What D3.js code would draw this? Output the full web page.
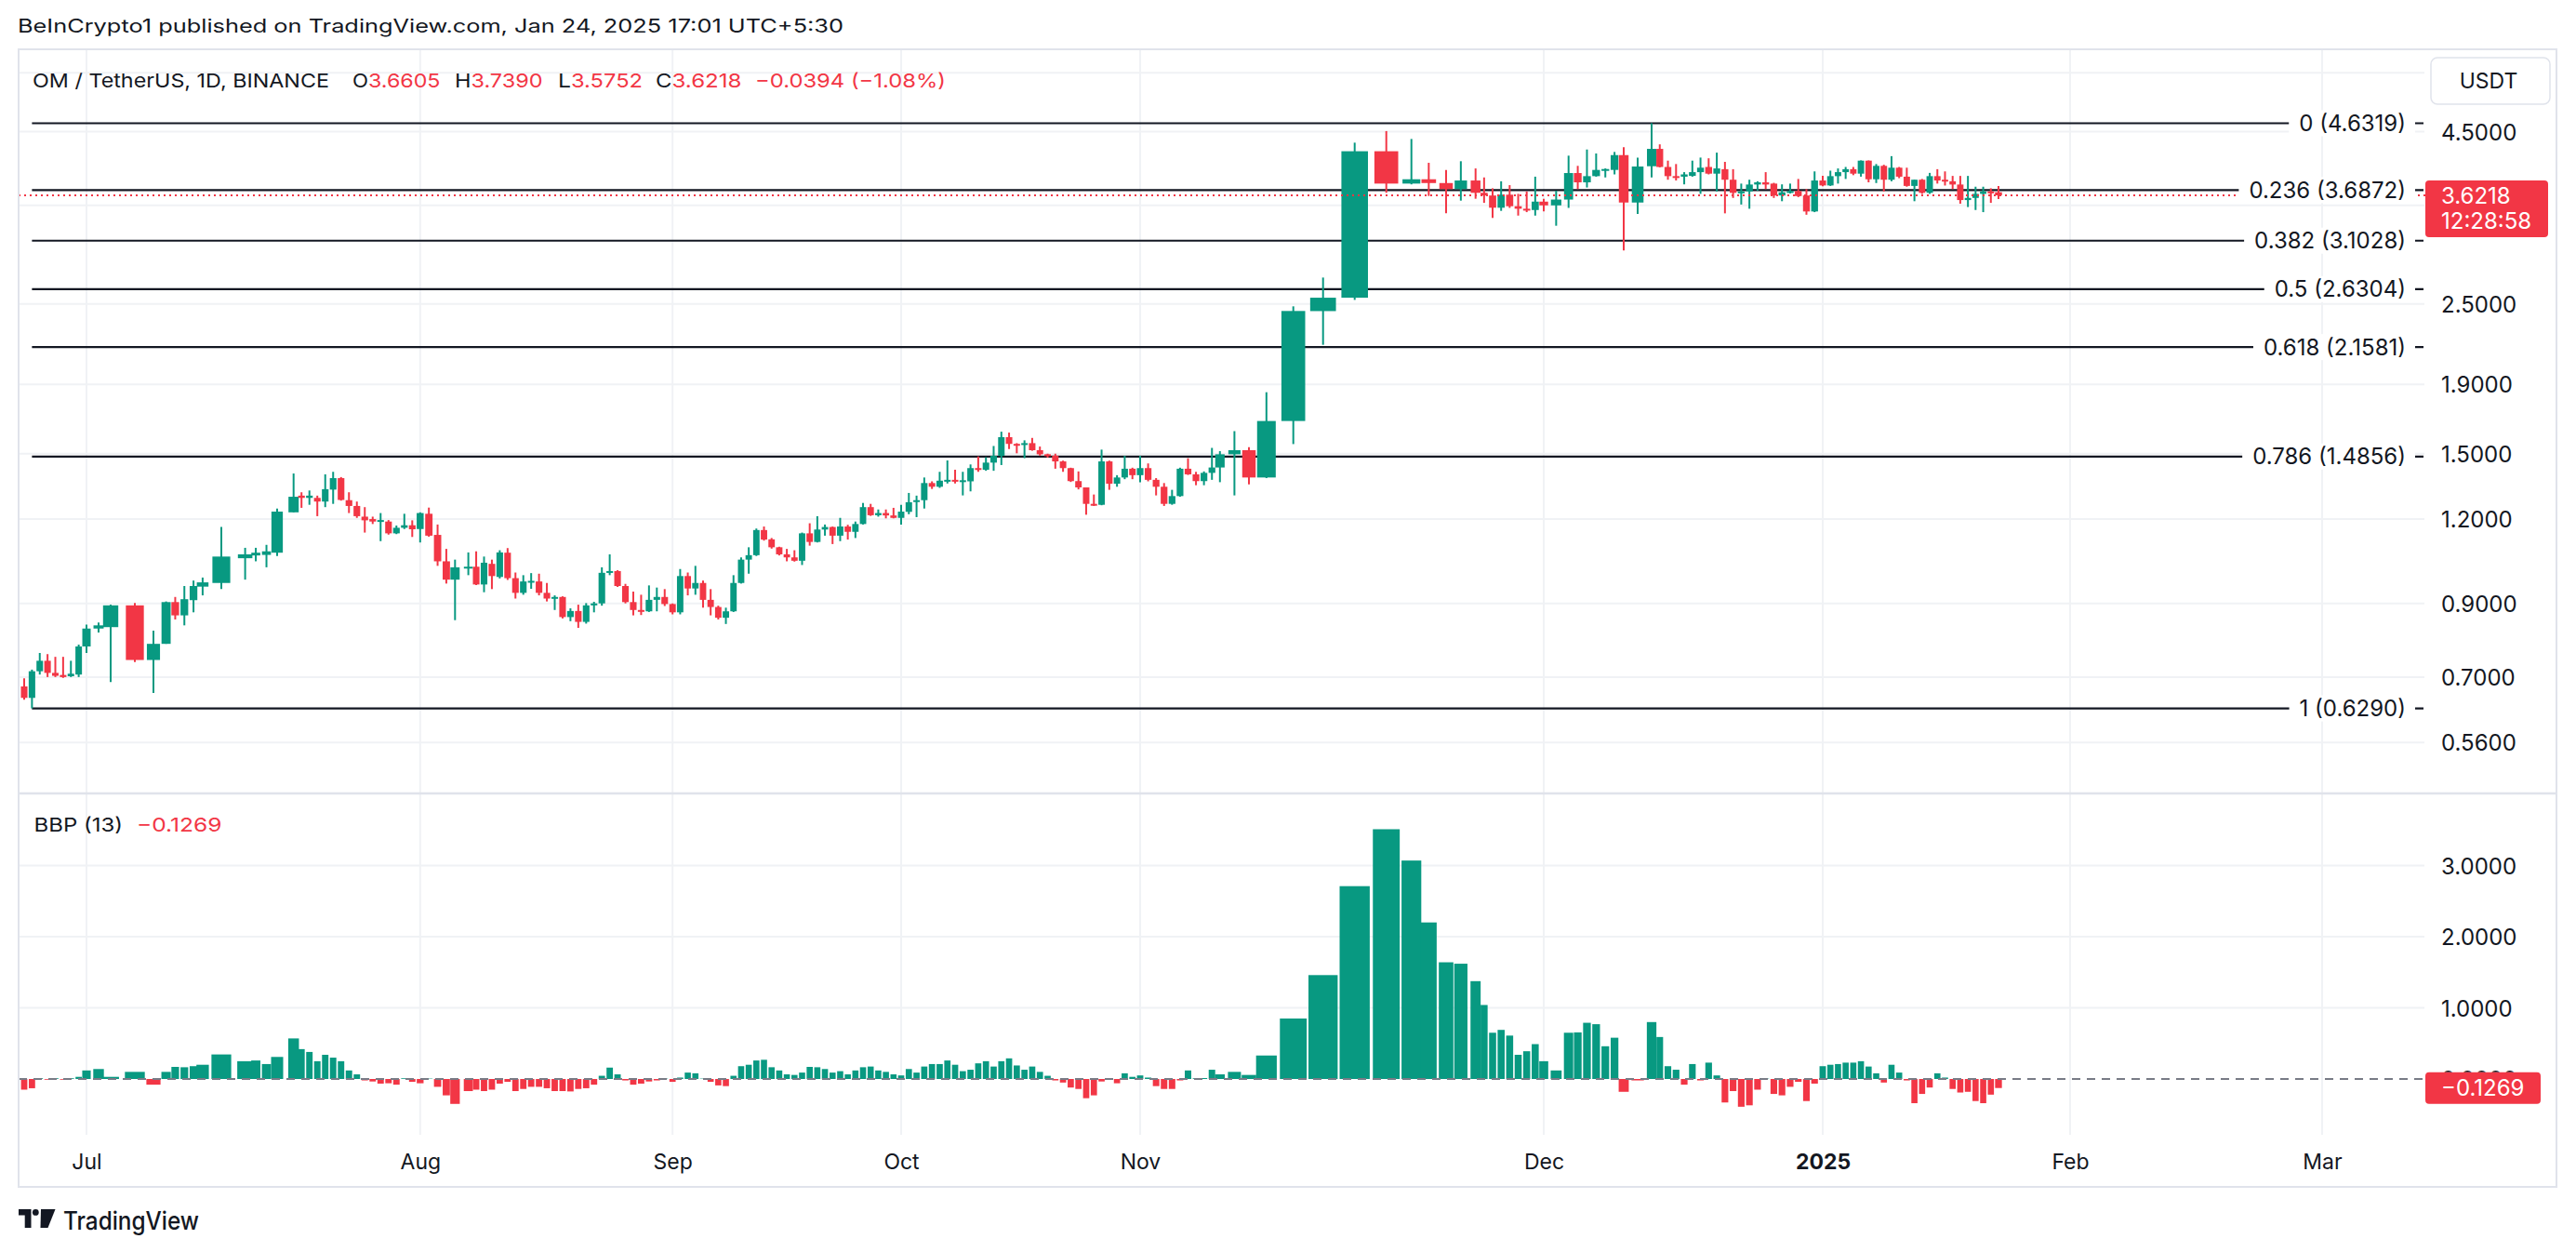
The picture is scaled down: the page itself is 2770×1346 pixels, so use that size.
<!DOCTYPE html>
<html>
<head>
<meta charset="utf-8">
<script src="https://cdn.jsdelivr.net/npm/d3@7"></script>
<style>
html,body{margin:0;padding:0;background:#ffffff;}
svg{display:block;font-family:Inter,"Noto Sans","DejaVu Sans",sans-serif;}
</style>
</head>
<body>
<svg id="chart" width="2770" height="1346"></svg>
<script>
// ------------------------------------------------------------------ DATA
const startDate = "2024-06-23"; // first daily candle; one value per day below
const open = [
  0.678,0.652,0.714,0.740,0.710,0.705,0.702,0.706,
  0.777,0.826,0.830,0.894,0.742,0.784,0.904,0.864,0.910,0.953,0.965,1.050,1.060,1.062,1.070,1.228,1.300,1.290,1.290,1.274,1.327,1.380,1.280,1.255,1.210,1.200,1.190,1.190,1.143,1.165,1.175,
  1.160,1.222,1.137,1.039,0.976,1.018,1.020,0.960,1.030,0.985,1.070,0.981,0.933,0.970,0.970,0.933,0.915,0.920,0.859,0.877,0.845,0.894,0.900,0.999,1.005,0.955,0.904,0.880,0.876,0.911,0.920,
  0.898,0.873,0.988,0.947,0.965,0.911,0.889,0.857,0.876,0.965,1.045,1.061,1.156,1.120,1.090,1.064,1.053,1.041,1.143,1.110,1.158,1.168,1.134,1.170,1.149,1.180,1.250,1.216,1.225,1.215,
  1.205,1.230,1.275,1.280,1.357,1.340,1.368,1.372,1.366,1.365,1.428,1.420,1.455,1.489,1.587,1.551,1.548,1.555,1.518,1.497,1.490,1.461,1.428,1.366,1.337,1.264,1.260,1.461,1.354,1.383,1.425,
  1.394,1.428,1.372,1.340,1.264,1.298,1.425,1.398,1.366,1.405,1.431,1.497,1.518,1.383,1.677,2.440,2.554,4.210,3.770,3.826,3.777,3.700,3.810,3.653,3.620,3.472,3.630,3.490,3.460,3.445,
  3.545,3.500,3.570,3.908,3.786,3.867,3.950,3.950,4.155,3.534,4.000,4.244,3.990,3.867,3.860,3.870,3.920,3.990,3.900,3.960,3.820,3.653,3.670,3.758,3.786,3.770,3.620,3.660,3.675,3.620,3.428,
  3.810,3.746,3.867,3.920,3.960,3.900,4.077,3.826,4.005,3.820,3.980,3.860,3.740,3.820,3.653,3.867,3.820,3.800,3.758,3.564,3.590,3.640,3.670,3.6605
];
const high = [
  0.697,0.718,0.760,0.757,0.750,0.750,0.740,0.782,
  0.837,0.843,0.896,0.901,0.820,0.906,0.920,0.955,0.973,0.983,1.168,1.088,1.088,1.099,1.244,1.402,1.315,1.323,1.300,1.398,1.410,1.385,1.315,1.274,1.250,1.210,1.225,1.196,1.174,1.222,1.195,
  1.228,1.248,1.178,1.084,1.045,1.071,1.075,1.056,1.045,1.079,1.087,1.000,0.991,0.998,0.996,0.965,0.925,0.922,0.885,0.896,0.901,0.905,1.018,1.064,1.008,0.962,0.937,0.927,0.957,0.950,0.945,
  0.900,1.012,1.000,1.023,0.973,0.945,0.893,0.887,0.991,1.053,1.090,1.162,1.170,1.125,1.092,1.084,1.079,1.146,1.183,1.212,1.178,1.170,1.205,1.177,1.190,1.268,1.264,1.240,1.240,1.247,
  1.260,1.312,1.300,1.383,1.365,1.410,1.466,1.420,1.410,1.446,1.486,1.482,1.540,1.617,1.612,1.555,1.570,1.583,1.537,1.500,1.500,1.465,1.430,1.412,1.337,1.305,1.521,1.465,1.394,1.489,1.430,
  1.489,1.451,1.380,1.357,1.326,1.430,1.477,1.410,1.412,1.530,1.513,1.620,1.534,1.850,2.480,2.736,4.335,4.510,4.390,4.047,3.950,4.069,3.970,3.850,3.710,3.800,3.750,3.640,3.670,3.860,
  3.580,3.680,4.147,4.005,4.235,4.178,3.970,4.200,4.267,4.120,4.6319,4.310,4.077,4.030,3.920,4.077,4.120,4.110,4.190,4.060,3.960,3.770,3.820,3.800,3.920,3.780,3.760,3.770,3.830,3.700,3.930,
  3.870,3.940,3.970,3.990,3.990,4.080,4.080,4.030,4.020,4.140,3.990,3.980,3.820,3.830,3.910,3.960,3.930,3.870,3.870,3.870,3.730,3.730,3.710,3.7390
];
const low = [
  0.648,0.629,0.706,0.700,0.700,0.698,0.700,0.700,
  0.760,0.815,0.688,0.737,0.663,0.784,0.852,0.835,0.873,0.925,0.945,0.976,1.039,1.018,1.058,1.228,1.247,1.260,1.212,1.250,1.264,1.278,1.225,1.205,1.146,1.180,1.113,1.138,1.140,1.160,1.129,
  1.108,1.130,1.023,0.963,0.850,0.991,0.958,0.935,0.945,0.980,0.975,0.915,0.927,0.946,0.925,0.906,0.880,0.855,0.847,0.828,0.840,0.873,0.893,0.991,0.952,0.900,0.864,0.865,0.874,0.876,0.892,
  0.867,0.867,0.925,0.927,0.887,0.864,0.852,0.839,0.874,0.963,0.996,1.058,1.115,1.085,1.060,1.039,1.038,1.026,1.096,1.108,1.134,1.102,1.113,1.119,1.125,1.178,1.213,1.210,1.203,1.203,
  1.178,1.220,1.208,1.244,1.330,1.335,1.355,1.355,1.301,1.319,1.410,1.415,1.415,1.443,1.524,1.502,1.477,1.515,1.490,1.480,1.425,1.410,1.362,1.328,1.218,1.255,1.258,1.326,1.340,1.375,1.375,
  1.361,1.365,1.301,1.255,1.260,1.295,1.395,1.347,1.347,1.372,1.361,1.301,1.351,1.380,1.550,2.175,2.535,3.653,3.760,3.614,3.406,3.557,3.580,3.530,3.353,3.435,3.470,3.380,3.420,3.380,
  3.430,3.265,3.470,3.700,3.720,3.860,3.850,3.890,3.000,3.399,3.850,3.985,3.820,3.810,3.760,3.860,3.640,3.890,3.670,3.406,3.590,3.510,3.460,3.680,3.700,3.590,3.550,3.645,3.600,3.390,3.420,
  3.735,3.740,3.770,3.830,3.880,3.860,3.786,3.777,3.670,3.800,3.840,3.730,3.550,3.640,3.640,3.770,3.745,3.700,3.520,3.480,3.445,3.420,3.530,3.5752
];
const close = [
  0.652,0.714,0.740,0.710,0.703,0.700,0.708,0.777,
  0.826,0.835,0.894,0.742,0.784,0.904,0.864,0.913,0.955,0.967,1.056,1.064,1.070,1.075,1.231,1.295,1.290,1.300,1.274,1.329,1.380,1.281,1.255,1.212,1.195,1.190,1.196,1.143,1.165,1.175,1.159,
  1.225,1.134,1.039,0.976,1.018,1.020,0.960,1.034,0.988,1.071,0.981,0.933,0.970,0.972,0.933,0.915,0.920,0.859,0.877,0.845,0.894,0.900,0.999,1.005,0.955,0.904,0.880,0.876,0.911,0.920,0.898,
  0.873,0.988,0.947,0.965,0.911,0.889,0.857,0.876,0.965,1.045,1.061,1.156,1.119,1.090,1.064,1.053,1.041,1.143,1.110,1.158,1.168,1.134,1.170,1.149,1.180,1.250,1.216,1.225,1.215,1.205,
  1.231,1.271,1.280,1.357,1.340,1.368,1.372,1.366,1.370,1.428,1.420,1.455,1.489,1.587,1.551,1.548,1.555,1.518,1.497,1.490,1.461,1.428,1.366,1.337,1.264,1.260,1.461,1.354,1.383,1.425,1.394,
  1.428,1.372,1.340,1.264,1.298,1.425,1.398,1.366,1.405,1.431,1.497,1.518,1.383,1.677,2.441,2.554,4.210,3.770,3.826,3.777,3.700,3.810,3.653,3.620,3.472,3.630,3.490,3.460,3.445,3.545,
  3.500,3.570,3.908,3.786,3.867,3.950,3.962,4.155,3.534,3.996,4.244,3.990,3.867,3.860,3.890,3.920,3.980,3.900,3.970,3.820,3.653,3.670,3.758,3.786,3.758,3.620,3.660,3.675,3.613,3.428,3.810,
  3.746,3.867,3.920,3.960,3.900,4.077,3.826,4.005,3.820,3.980,3.860,3.740,3.820,3.653,3.867,3.810,3.800,3.758,3.564,3.590,3.640,3.670,3.6612,3.6218
];
const bbp = [
  -0.15,-0.13,0.01,-0.01,0.01,-0.01,0.01,0.03,
  0.12,0.14,0.03,0.10,-0.08,0.10,0.17,0.165,0.18,0.20,0.345,0.25,0.26,0.21,0.31,0.57,0.42,0.38,0.25,0.34,0.30,0.25,0.12,0.065,-0.02,-0.035,-0.065,-0.06,-0.08,0.01,-0.04,
  -0.06,0.005,-0.11,-0.23,-0.35,-0.17,-0.15,-0.17,-0.15,-0.065,-0.04,-0.17,-0.14,-0.11,-0.11,-0.13,-0.17,-0.17,-0.175,-0.14,-0.13,-0.08,0.045,0.16,0.065,-0.02,-0.08,-0.065,-0.035,-0.02,0.005,
  -0.04,0.02,0.09,0.08,0.005,-0.04,-0.09,-0.10,0.045,0.18,0.20,0.26,0.27,0.165,0.12,0.065,0.057,0.09,0.17,0.165,0.14,0.09,0.11,0.065,0.12,0.165,0.175,0.12,0.10,0.065,
  0.05,0.14,0.09,0.175,0.21,0.21,0.26,0.20,0.11,0.13,0.22,0.25,0.175,0.25,0.29,0.19,0.13,0.175,0.10,0.045,-0.02,-0.05,-0.12,-0.14,-0.27,-0.23,-0.035,0.005,-0.06,0.08,0.03,
  0.05,0.02,-0.10,-0.14,-0.14,-0.02,0.12,0.01,0.013,0.13,0.065,0.10,0.057,0.33,0.85,1.46,2.71,3.51,3.07,2.20,1.64,1.62,1.375,1.04,0.65,0.69,0.61,0.34,0.39,0.49,
  0.25,0.12,0.65,0.655,0.79,0.77,0.46,0.58,-0.18,-0.02,0.80,0.59,0.18,0.13,-0.08,0.21,-0.02,0.23,0.05,-0.33,-0.17,-0.39,-0.37,-0.15,0.005,-0.21,-0.23,-0.11,-0.04,-0.31,-0.065,
  0.18,0.20,0.21,0.23,0.23,0.25,0.175,0.08,-0.05,0.20,0.09,-0.02,-0.34,-0.21,-0.12,0.08,0.02,-0.14,-0.19,-0.18,-0.31,-0.34,-0.22,-0.1269
];
const priceGridTicks = [0.56, 0.7, 0.9, 1.2, 1.5, 1.9, 2.5, 3.5, 4.5, 5.5];
const priceLabelTicks = [0.56, 0.7, 0.9, 1.2, 1.5, 1.9, 2.5, 4.5]; // 3.5 and 5.5 are hidden under the tag / button
const bbpTicks = [0, 1, 2, 3];
const monthTicks = ["2024-07-01","2024-08-01","2024-09-01","2024-10-01","2024-11-01","2024-12-01","2025-01-01","2025-02-01","2025-03-01"];
const fibLevels = [0, 0.236, 0.382, 0.5, 0.618, 0.786, 1];
const fibHigh = 4.6319, fibLow = 0.6290, fibStart = "2024-06-24";
const headerText = "BeInCrypto1 published on TradingView.com, Jan 24, 2025 17:01 UTC+5:30";
const symbolText = "OM / TetherUS, 1D, BINANCE";
const bbpTitle = "BBP (13)";
const countdown = "12:28:58";
const currency = "USDT";

// ------------------------------------------------------------------ LAYOUT
const C_UP = "#089981", C_DN = "#F23645", C_TXT = "#131722", C_GRID = "#F0F2F5", C_BORDER = "#E0E3EB";
const FRAME = {l: 20, t: 53, r: 2749, b: 1276};
const PLOT_R = 2607;
const PANE_SEP = 853, BBP_BOTTOM = 1220;
const AXIS_X = 2625;
// the time axis of the picture is not uniform: piecewise anchors (date -> px)
const timeWarp = [
  ["2024-06-23",26],["2024-07-01",93],["2024-07-03",119],["2024-07-04",145],["2024-07-05",165],
  ["2024-07-06",178.6],["2024-07-10",217.9],["2024-07-11",238],["2024-07-12",263.6],["2024-07-15",298],
  ["2024-07-16",315.7],["2024-08-01",451.8],["2024-08-05",489.3],["2024-08-06",503.6],["2024-09-01",723.2],
  ["2024-10-01",969],["2024-11-01",1226],["2024-11-11",1311.8],["2024-11-13",1343],["2024-11-14",1361.8],
  ["2024-11-15",1390.7],["2024-11-16",1422.7],["2024-11-17",1456.7],["2024-11-18",1490.7],["2024-11-19",1517.7],
  ["2024-11-21",1555],["2024-11-23",1586.7],["2024-12-01",1660],["2024-12-03",1686.7],["2024-12-09",1746],
  ["2024-12-11",1776],["2025-01-01",1960],["2025-01-24",2149],["2025-02-01",2226],["2025-03-01",2497]
];

const parseDay = d3.utcParse("%Y-%m-%d");
const t0 = parseDay(startDate);
const rows = open.map((o, i) => ({
  date: d3.utcDay.offset(t0, i), o, h: high[i], l: low[i], c: close[i], b: bbp[i]
}));

const x = d3.scaleUtc().domain(timeWarp.map(a => parseDay(a[0]))).range(timeWarp.map(a => a[1]));
const y = d3.scaleLog().domain([0.56, 4.5]).range([798.2, 141.6]);
const yb = d3.scaleLinear().domain([0, 3]).range([1160, 930.5]);
const slot = d => (x(d3.utcDay.offset(d, 1)) - x(d3.utcDay.offset(d, -1))) / 2;
const f4 = d3.format(".4f");

const svg = d3.select("#chart");
svg.append("rect").attr("width", 2770).attr("height", 1346).attr("fill", "#fff");

const defs = svg.append("defs");
defs.append("clipPath").attr("id", "pricePane").append("rect")
  .attr("x", FRAME.l).attr("y", FRAME.t).attr("width", PLOT_R - FRAME.l).attr("height", PANE_SEP - FRAME.t);
defs.append("clipPath").attr("id", "bbpPane").append("rect")
  .attr("x", FRAME.l).attr("y", PANE_SEP).attr("width", PLOT_R - FRAME.l).attr("height", BBP_BOTTOM - PANE_SEP);

// ---- grid
const grid = svg.append("g");
const months = monthTicks.map(parseDay);
grid.selectAll("line.v").data(months).join("line")
  .attr("x1", d => x(d)).attr("x2", d => x(d)).attr("y1", FRAME.t).attr("y2", BBP_BOTTOM)
  .attr("stroke", C_GRID).attr("stroke-width", 2);
grid.selectAll("line.hp").data(priceGridTicks).join("line")
  .attr("x1", FRAME.l).attr("x2", PLOT_R).attr("y1", d => y(d)).attr("y2", d => y(d))
  .attr("stroke", C_GRID).attr("stroke-width", 2);
grid.selectAll("line.hb").data(bbpTicks.filter(v => v !== 0)).join("line")
  .attr("x1", FRAME.l).attr("x2", PLOT_R).attr("y1", d => yb(d)).attr("y2", d => yb(d))
  .attr("stroke", C_GRID).attr("stroke-width", 2);

// ---- fib retracement lines
const fibs = fibLevels.map(l => ({l, p: fibHigh - l * (fibHigh - fibLow)}));
svg.append("g").selectAll("line").data(fibs).join("line")
  .attr("x1", x(parseDay(fibStart))).attr("x2", 2606)
  .attr("y1", d => y(d.p)).attr("y2", d => y(d.p))
  .attr("stroke", "#131722").attr("stroke-width", 2.2);

// ---- candles
const cg = svg.append("g").attr("clip-path", "url(#pricePane)");
const candle = cg.selectAll("g").data(rows).join("g");
candle.append("line")
  .attr("x1", d => x(d.date)).attr("x2", d => x(d.date))
  .attr("y1", d => y(d.h)).attr("y2", d => y(d.l))
  .attr("stroke", d => d.c >= d.o ? C_UP : C_DN).attr("stroke-width", 2);
candle.append("rect")
  .attr("x", d => x(d.date) - slot(d.date) * 0.42)
  .attr("width", d => Math.max(1, slot(d.date) * 0.84))
  .attr("y", d => y(Math.max(d.o, d.c)))
  .attr("height", d => Math.max(2, y(Math.min(d.o, d.c)) - y(Math.max(d.o, d.c))))
  .attr("fill", d => d.c >= d.o ? C_UP : C_DN);

// ---- last price line
const last = rows[rows.length - 1], prev = rows[rows.length - 2];
svg.append("line").attr("x1", FRAME.l).attr("x2", 2608)
  .attr("y1", y(last.c)).attr("y2", y(last.c))
  .attr("stroke", C_DN).attr("stroke-width", 2).attr("stroke-dasharray", "2,4");

// ---- BBP histogram
const bg = svg.append("g").attr("clip-path", "url(#bbpPane)");
bg.selectAll("rect").data(rows).join("rect")
  .attr("x", d => x(d.date) - (slot(d.date) - 1.6) / 2)
  .attr("width", d => Math.max(1, slot(d.date) - 1.6))
  .attr("y", d => Math.min(yb(0), yb(d.b)))
  .attr("height", d => Math.abs(yb(d.b) - yb(0)))
  .attr("fill", d => d.b >= 0 ? C_UP : C_DN);
svg.append("line").attr("x1", FRAME.l).attr("x2", 2608).attr("y1", yb(0)).attr("y2", yb(0))
  .attr("stroke", "#787B86").attr("stroke-width", 2).attr("stroke-dasharray", "9,7");

// ---- frame
svg.append("rect").attr("x", FRAME.l).attr("y", FRAME.t)
  .attr("width", FRAME.r - FRAME.l).attr("height", FRAME.b - FRAME.t)
  .attr("fill", "none").attr("stroke", C_BORDER).attr("stroke-width", 2);
svg.append("line").attr("x1", FRAME.l).attr("x2", FRAME.r).attr("y1", PANE_SEP).attr("y2", PANE_SEP)
  .attr("stroke", C_BORDER).attr("stroke-width", 2.5);

// ---- axes (d3 axes, restyled)
function styleAxis(g) {
  g.select(".domain").remove();
  g.selectAll(".tick line").remove();
  g.selectAll("text").attr("fill", C_TXT).attr("font-family", "Inter, 'Noto Sans', sans-serif");
}
svg.append("g").attr("transform", `translate(${AXIS_X},0)`)
  .call(d3.axisRight(y).tickValues(priceLabelTicks).tickFormat(f4).tickSize(0).tickPadding(0))
  .call(styleAxis)
  .call(g => g.selectAll("text").attr("font-size", 24).attr("dy", "0.36em"));

// BBP scale: the zero label sits behind the value tag, only its top peeks out
defs.append("clipPath").attr("id", "zeroPeek").append("rect")
  .attr("x", AXIS_X - 5).attr("y", 1140).attr("width", 140).attr("height", yb(bbp[bbp.length - 1]) - 17 - 1140);
svg.append("g").attr("transform", `translate(${AXIS_X},0)`)
  .call(d3.axisRight(yb).tickValues(bbpTicks.filter(v => v !== 0)).tickFormat(f4).tickSize(0).tickPadding(0))
  .call(styleAxis)
  .call(g => g.selectAll("text").attr("font-size", 24).attr("dy", "0.36em"));
svg.append("g").attr("clip-path", "url(#zeroPeek)").append("text")
  .attr("x", AXIS_X).attr("y", yb(0)).attr("dy", "0.36em").attr("font-size", 24).attr("fill", C_TXT)
  .text(f4(0));

svg.append("g").attr("transform", `translate(0,1241)`)
  .call(d3.axisBottom(x).tickValues(months)
    .tickFormat(d => d.getUTCMonth() === 0 ? d3.utcFormat("%Y")(d) : d3.utcFormat("%b")(d))
    .tickSize(0).tickPadding(0))
  .call(styleAxis)
  .call(g => g.selectAll("text").attr("font-size", 23).attr("dy", "0.71em")
    .attr("font-weight", d => d.getUTCMonth() === 0 ? 700 : 400));

// ---- fib labels
const fibLab = svg.append("g");
fibs.forEach(f => {
  const yy = y(f.p);
  const t = fibLab.append("text").attr("x", 2587).attr("y", yy).attr("dy", "0.36em")
    .attr("text-anchor", "end").attr("font-size", 24).attr("fill", C_TXT)
    .text(`${f.l} (${f4(f.p)})`);
  const w = t.node().getComputedTextLength();
  fibLab.insert("rect", "text").attr("x", 2587 - w - 11).attr("y", yy - 14)
    .attr("width", w + 21).attr("height", 28).attr("fill", "#fff");
});

// ---- price tag
const tag = svg.append("g");
tag.append("rect").attr("x", 2608).attr("y", y(last.c) - 16).attr("width", 132).attr("height", 61)
  .attr("rx", 4).attr("fill", C_DN);
tag.append("text").attr("x", AXIS_X).attr("y", y(last.c)).attr("dy", "0.36em")
  .attr("font-size", 24).attr("fill", "#fff").text(f4(last.c));
tag.append("text").attr("x", AXIS_X).attr("y", y(last.c) + 27).attr("dy", "0.36em")
  .attr("font-size", 24).attr("fill", "#fff").text(countdown);

// ---- bbp tag
svg.append("rect").attr("x", 2608).attr("y", yb(last.b) - 17).attr("width", 124).attr("height", 34)
  .attr("rx", 4).attr("fill", C_DN);
svg.append("text").attr("x", AXIS_X).attr("y", yb(last.b)).attr("dy", "0.36em")
  .attr("font-size", 24).attr("fill", "#fff").text(f4(last.b));

// ---- currency button
svg.append("rect").attr("x", 2614).attr("y", 62).attr("width", 128).attr("height", 50).attr("rx", 7)
  .attr("fill", "#fff").attr("stroke", C_BORDER).attr("stroke-width", 1.5);
svg.append("text").attr("x", 2676).attr("y", 87).attr("dy", "0.36em").attr("text-anchor", "middle")
  .attr("font-size", 23).attr("fill", C_TXT).text(currency);

// ---- header / legends
svg.append("text").attr("x", 19).attr("y", 34.5).attr("font-size", 20).attr("fill", C_TXT)
  .attr("textLength", 888).attr("lengthAdjust", "spacingAndGlyphs").text(headerText);

const chg = last.c - prev.c, pct = chg / prev.c;
const legendParts = [
  {t: symbolText, x: 35, w: 319, c: C_TXT},
  {t: "O", x: 379, w: 17, c: C_TXT}, {t: f4(last.o), x: 396, w: 77.5, c: C_DN},
  {t: "H", x: 489, w: 17.5, c: C_TXT}, {t: f4(last.h), x: 506.5, w: 77, c: C_DN},
  {t: "L", x: 600, w: 14, c: C_TXT}, {t: f4(last.l), x: 614, w: 77, c: C_DN},
  {t: "C", x: 705, w: 17.5, c: C_TXT}, {t: f4(last.c), x: 722.5, w: 75, c: C_DN},
  {t: `${f4(chg)} (${d3.format(".2%")(pct)})`, x: 812, w: 205, c: C_DN}
];
svg.append("g").selectAll("text").data(legendParts).join("text")
  .attr("x", d => d.x).attr("y", 94).attr("font-size", 20.5).attr("fill", d => d.c)
  .attr("textLength", d => d.w).attr("lengthAdjust", "spacingAndGlyphs").text(d => d.t);

svg.append("text").attr("x", 36.5).attr("y", 894.3).attr("font-size", 20.5).attr("fill", C_TXT)
  .attr("textLength", 95.5).attr("lengthAdjust", "spacingAndGlyphs").text(bbpTitle);
svg.append("text").attr("x", 147).attr("y", 894.3).attr("font-size", 20.5).attr("fill", C_DN)
  .attr("textLength", 91.5).attr("lengthAdjust", "spacingAndGlyphs").text(f4(last.b));

// ---- TradingView logo
const logo = svg.append("g").attr("fill", C_TXT);
logo.append("path").attr("d", "M20,1300 H33.5 V1320 H26.7 V1306.5 H20 Z");
logo.append("circle").attr("cx", 38.3).attr("cy", 1303.4).attr("r", 3.4);
logo.append("path").attr("d", "M44,1300 H59.5 L51.5,1320 H43.5 Z");
logo.append("text").attr("x", 68).attr("y", 1321.5).attr("font-size", 27).attr("font-weight", 500)
  .attr("textLength", 146).attr("lengthAdjust", "spacingAndGlyphs").text("TradingView");
</script>
</body>
</html>
